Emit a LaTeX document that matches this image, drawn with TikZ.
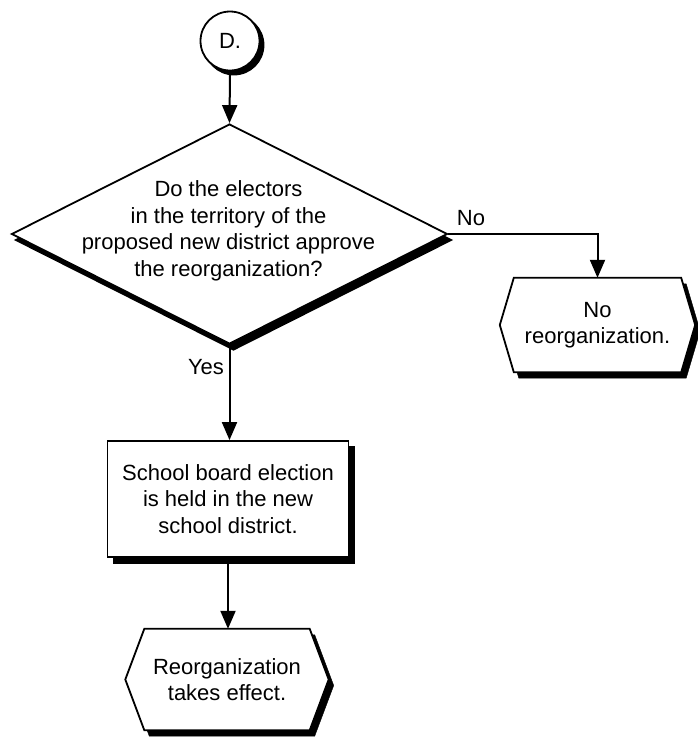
\documentclass[tikz,border=0pt]{standalone}
\usepackage{fontspec}
\setmainfont{Liberation Sans}
\usetikzlibrary{shapes.geometric,arrows.meta,calc,backgrounds}
\begin{document}
\begin{tikzpicture}[x=1pt,y=-1pt,
  outline/.style={draw=black, line width=1.8pt, fill=white},
  shadowed/.style 2 args={preaction={fill=black, draw=black, transform canvas={xshift=#1, yshift=#2}}},
  txt/.style={font=\fontsize{22}{26.5}\selectfont, align=center},
  conn/.style={line width=2pt, -{Triangle[length=18pt,width=15pt]}}]
\useasboundingbox (0,0) rectangle (697,737);

% start connector circle
\node[circle, outline, shadowed={4pt}{-4pt}, minimum size=59pt, inner sep=0pt, txt] (d) at (230,41) {D.};

% decision
\node[diamond, outline, shadowed={4pt}{-6pt}, minimum width=436pt, minimum height=220pt, inner sep=0pt] (q) at (229.5,234) {};
\node[txt, inner sep=0pt] (qt) at (228.5,231) {Do the electors\\in the territory of the\\proposed new district approve\\the reorganization?};

% process box
\node[rectangle, outline, shadowed={6pt}{-6pt}, minimum width=241pt, minimum height=116pt, txt] (b) at (228,499) {School board election\\is held in the new\\school district.};

% terminal hexagons (text nodes, outlines drawn behind)
\node[txt, minimum width=167pt, minimum height=94pt, inner sep=0pt] (h1) at (597.5,325) {No\\reorganization.};
\node[txt, minimum width=165pt, minimum height=101pt, inner sep=0pt] (h2) at (227,679.5) {Reorganization\\takes effect.};
\begin{scope}[on background layer]
  \draw[outline, shadowed={5pt}{-6pt}] (h1.north west) -- (h1.north east) -- ($(h1.east)+(14,0)$)
    -- (h1.south east) -- (h1.south west) -- ($(h1.west)+(-14,0)$) -- cycle;
  \draw[outline, shadowed={5pt}{-6pt}] (h2.north west) -- (h2.north east) -- ($(h2.east)+(19,0)$)
    -- (h2.south east) -- (h2.south west) -- ($(h2.west)+(-19,0)$) -- cycle;
\end{scope}

% connectors
\draw[conn] (d.south) -- (q.north);
\draw[conn] (q.east) -| (h1.north);
\draw[conn] (q.south) -- (q.south |- b.north);
\draw[conn] (b.south) -- (b.south |- h2.north);

% branch labels
\node[txt, inner sep=0pt] (no) at (471,218) {No};
\node[txt, inner sep=0pt] (yes) at (206,367) {Yes};
\end{tikzpicture}
\end{document}
